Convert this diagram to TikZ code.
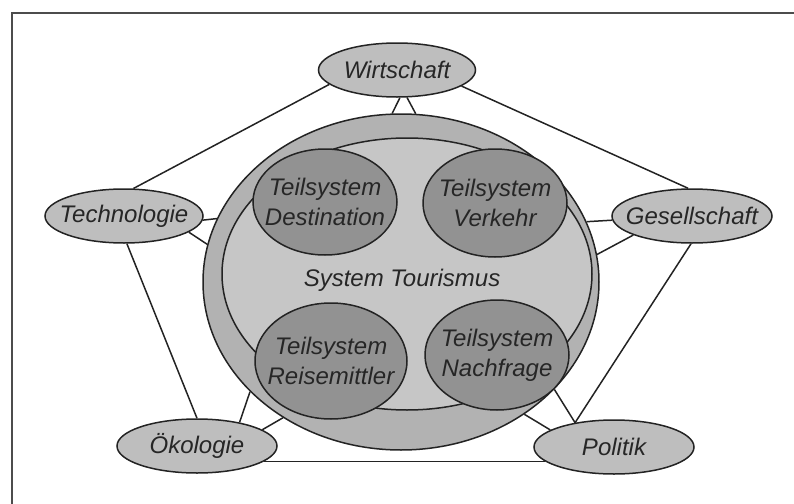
\documentclass[tikz,border=0pt]{standalone}
\usepackage{fontspec}
\setmainfont{Liberation Sans}
\usetikzlibrary{shapes.geometric}
\definecolor{ringgrau}{RGB}{178,178,178}
\definecolor{innengrau}{RGB}{198,198,198}
\definecolor{teilgrau}{RGB}{146,146,146}
\definecolor{umweltgrau}{RGB}{190,190,190}
\definecolor{linie}{RGB}{35,35,35}
\begin{document}
\begin{tikzpicture}[x=0.5pt, y=-0.5pt,
	every node/.style={font=\fontsize{12}{15}\selectfont\itshape, text=black!85},
	every label/.style={align=center, inner sep=0pt},
	rand/.style={ellipse, draw=linie, line width=0.75pt, inner sep=0pt},
	system/.style={rand, fill=ringgrau, minimum width=198pt, minimum height=168pt},
	innen/.style={rand, fill=innengrau, minimum width=185pt, minimum height=136pt},
	teil/.style={rand, fill=teilgrau},
	umwelt/.style={rand, fill=umweltgrau, minimum width=80pt, minimum height=27pt},
	verbindung/.style={draw=linie, line width=0.75pt}]
	\useasboundingbox (0,0) rectangle (794,504);
	\clip (0,0) rectangle (794,504);
	\draw[line width=1pt, draw=black!70] (12,13) rectangle (830,540);
	\node[system] (sys) at (401,282) {};
	\node[innen] (ring) at (407,274) {};
	\node (tour) at (402,280) {System Tourismus};
	\node[teil, minimum width=72pt, minimum height=53pt, label={center:Teilsystem\\Destination}] (dest) at (325,202) {};
	\node[teil, minimum width=72pt, minimum height=54pt, label={center:Teilsystem\\Verkehr}] (verk) at (495,203) {};
	\node[teil, minimum width=76pt, minimum height=58pt, label={center:Teilsystem\\Reisemittler}] (reise) at (331,361) {};
	\node[teil, minimum width=72pt, minimum height=55pt, label={center:Teilsystem\\Nachfrage}] (nach) at (497,355) {};
	\node[umwelt, minimum width=78.5pt, label=center:Wirtschaft] (wirt) at (397,70) {};
	\node[umwelt, minimum width=79pt, label=center:Technologie] (tech) at (124,216) {};
	\node[umwelt, label=center:Gesellschaft] (ges) at (692,216) {};
	\node[umwelt, label=center:Ökologie] (oeko) at (197,446) {};
	\node[umwelt, label=center:Politik] (pol) at (614,447) {};
	\draw[verbindung] (wirt.192) -- (tech.71);
	\draw[verbindung] (wirt.-14) -- (ges.98);
	\draw[verbindung] (tech.-84) -- (oeko.90);
	\draw[verbindung] (ges.-92) -- (pol.148);
	\draw[verbindung] (oeko.-13) -- (oeko.-13 -| pol.192);
	\draw[verbindung] (wirt.-84) -- (sys.93);
	\draw[verbindung] (wirt.-70) -- (sys.85);
	\draw[verbindung] (tech.-3) -- (sys.161.4);
	\draw[verbindung] (tech.-14) -- (sys.169);
	\draw[verbindung] (ges.183) -- (sys.18.6);
	\draw[verbindung] (ges.198.7) -- (sys.8.6);
	\draw[verbindung] (oeko.29) -- (sys.216.3);
	\draw[verbindung] (oeko.14.8) -- (sys.229.3);
	\draw[verbindung] (pol.165) -- (sys.-47.6);
	\draw[verbindung] (pol.148) -- (sys.-35.3);
\end{tikzpicture}
\end{document}
